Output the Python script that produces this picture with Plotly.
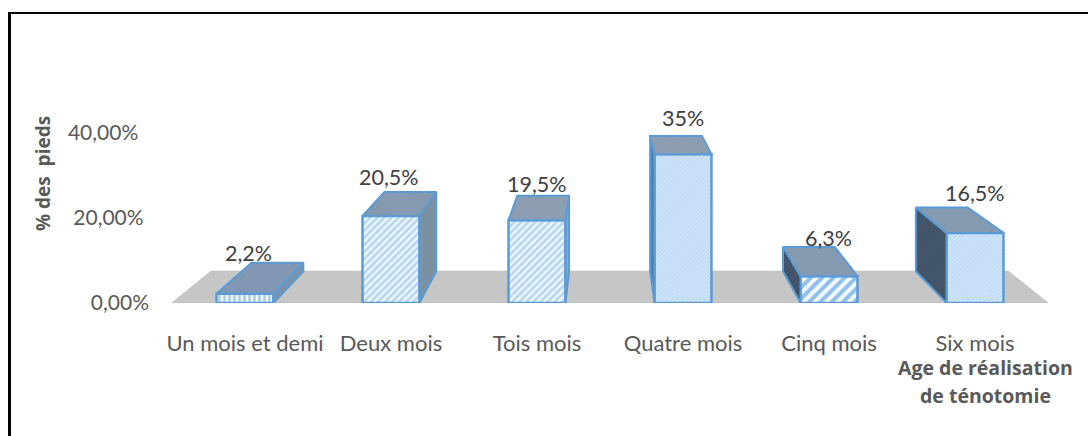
import plotly.graph_objects as go

# ---- data ----
categories = ["Un mois et demi", "Deux mois", "Tois mois", "Quatre mois", "Cinq mois", "Six mois"]
values = [2.2, 20.5, 19.5, 35, 6.3, 16.5]
value_labels = ["2,2%", "20,5%", "19,5%", "35%", "6,3%", "16,5%"]
y_ticks = [0, 20, 40]
# trailing no-break spaces reproduce the slanted tick column of the 3D wall
y_tick_labels = ["0,00%", "20,00%\u00a0", "40,00%\u00a0\u00a0"]
x_title_lines = ["Age de réalisation", "de ténotomie"]
y_title = "% des\u00a0 pieds"

# ---- styles ----
W, H = 1088, 436
FONT = "Lato, Carlito, Calibri, sans-serif"
BOLD_FONT = "Open Sans, sans-serif"
EDGE = "#5b9bd5"
TICK = "#595959"
front_fg = ["#a6cdf0", "#b5d5f2", "#b5d5f2", "#bcdaf5", "#8fc0ec", "#bcdaf5"]
front_bg = ["#f4f9fe", "#eef6fd", "#eef6fd", "#d3e7f9", "#f4f9fe", "#d3e7f9"]
front_shape = ["|", "/", "/", "/", "/", "/"]
front_size = [5, 5, 5, 3, 8, 3]
side_color = ["#7b90a8", "#78909f", "#7fa6cc", "#4a7fb5", "#3f5267", "#3f5267"]
top_color = ["#7f96b2", "#8398ae", "#8b9cb0", "#8b9cb0", "#8499b0", "#8499b0"]

# ---- perspective projection in data units (x: category index, y: percent) ----
BAR_W = 0.39
DEPTH = 0.09
VP_X, VP_Y = 2.47, 83.0
X_RANGE = (-0.5, 5.5)
Y_RANGE = (0, 50)


def back(x, y):
    return x + DEPTH * (VP_X - x), y + DEPTH * (VP_Y - y)


def poly(points):
    pts = points + [points[0]]
    return [p[0] for p in pts], [p[1] for p in pts]


def face(points, color):
    xs, ys = poly(points)
    return go.Scatter(
        x=xs, y=ys, mode="lines", fill="toself", fillcolor=color,
        fillpattern=dict(shape="/", fgcolor="rgba(255,255,255,0.07)", bgcolor=color, size=3, solidity=0.4),
        line=dict(color=EDGE, width=2), hoverinfo="skip", showlegend=False, cliponaxis=False,
    )


fig = go.Figure()

# front faces
for i, v in enumerate(values):
    fig.add_trace(go.Bar(
        x=[i], y=[v], width=BAR_W, showlegend=False, cliponaxis=False, name=categories[i],
        marker=dict(
            color=front_bg[i],
            line=dict(color=EDGE, width=2.5),
            pattern=dict(shape=front_shape[i], fgcolor=front_fg[i], bgcolor=front_bg[i],
                         size=front_size[i], solidity=0.5, fgopacity=1),
        ),
    ))

# side and top faces, computed from the values
for i, v in enumerate(values):
    l, r = i - BAR_W / 2, i + BAR_W / 2
    edge_x = r if r < VP_X else l
    fig.add_trace(face([(edge_x, 0), (edge_x, v), back(edge_x, v), back(edge_x, 0)], side_color[i]))
    fig.add_trace(face([(l, v), (r, v), back(r, v), back(l, v)], top_color[i]))

# value labels, sitting just above the back edge of each top face
label_lift = [10, 15, 12, 18, 9, 14]
label_shift = [3, -2, 0, 0, -1, 0]
annotations = []
for i, v in enumerate(values):
    annotations.append(dict(
        x=i, y=back(i, v)[1], xref="x", yref="y", text=value_labels[i], showarrow=False,
        xanchor="center", yanchor="middle", xshift=label_shift[i], yshift=label_lift[i],
        font=dict(family=FONT, size=21.5, color="#404040"),
    ))

for line, py in zip(x_title_lines, [367, 395]):
    annotations.append(dict(
        x=985 / W, y=1 - py / H, xref="paper", yref="paper", showarrow=False,
        text=f"<b>{line}</b>", font=dict(family=BOLD_FONT, size=19.5, color=TICK),
        xanchor="center", yanchor="middle",
    ))
annotations.append(dict(
    x=43 / W, y=1 - 174 / H, xref="paper", yref="paper", showarrow=False, textangle=-90,
    text=f"<b>{y_title}</b>",
    font=dict(family=BOLD_FONT, size=19, color=TICK), xanchor="center", yanchor="middle",
))

# floor
fl, fr = X_RANGE
bl, br = back(fl, 0), back(fr, 0)
floor_path = f"M {fl} 0 L {fr} 0 L {br[0]} {br[1]} L {bl[0]} {bl[1]} Z"

fig.update_layout(
    width=W, height=H, margin=dict(l=0, r=0, t=0, b=0), barmode="overlay",
    paper_bgcolor="white", plot_bgcolor="rgba(0,0,0,0)", showlegend=False,
    xaxis=dict(
        domain=[172 / W, 1048 / W], range=list(X_RANGE), tickmode="array", automargin=False,
        tickvals=list(range(len(categories))), ticktext=categories,
        showgrid=False, zeroline=False, showline=False, ticks="",
        ticklabelstandoff=25, tickfont=dict(family=FONT, size=22, color=TICK),
    ),
    yaxis=dict(
        domain=[1 - 303 / H, 1 - 90.5 / H], range=list(Y_RANGE), tickmode="array", automargin=False,
        tickvals=y_ticks, ticktext=y_tick_labels,
        showgrid=False, zeroline=False, showline=False, ticks="",
        ticklabelstandoff=22, tickfont=dict(family=FONT, size=21, color=TICK),
    ),
    annotations=annotations,
    shapes=[
        dict(type="path", xref="x", yref="y", path=floor_path, fillcolor="#c6c6c6",
             line=dict(color="#bdbdbd", width=1), layer="below"),
        dict(type="line", xref="paper", yref="paper", x0=8 / W, x1=1, y0=1 - 13 / H, y1=1 - 13 / H,
             line=dict(color="black", width=2), layer="below"),
        dict(type="line", xref="paper", yref="paper", x0=9.5 / W, x1=9.5 / W, y0=0, y1=1 - 12 / H,
             line=dict(color="black", width=3), layer="below"),
    ],
)

fig.write_html("out.html", config=dict(displayModeBar=False),
               post_script="document.body.style.margin='0';document.documentElement.style.overflow='hidden';")
